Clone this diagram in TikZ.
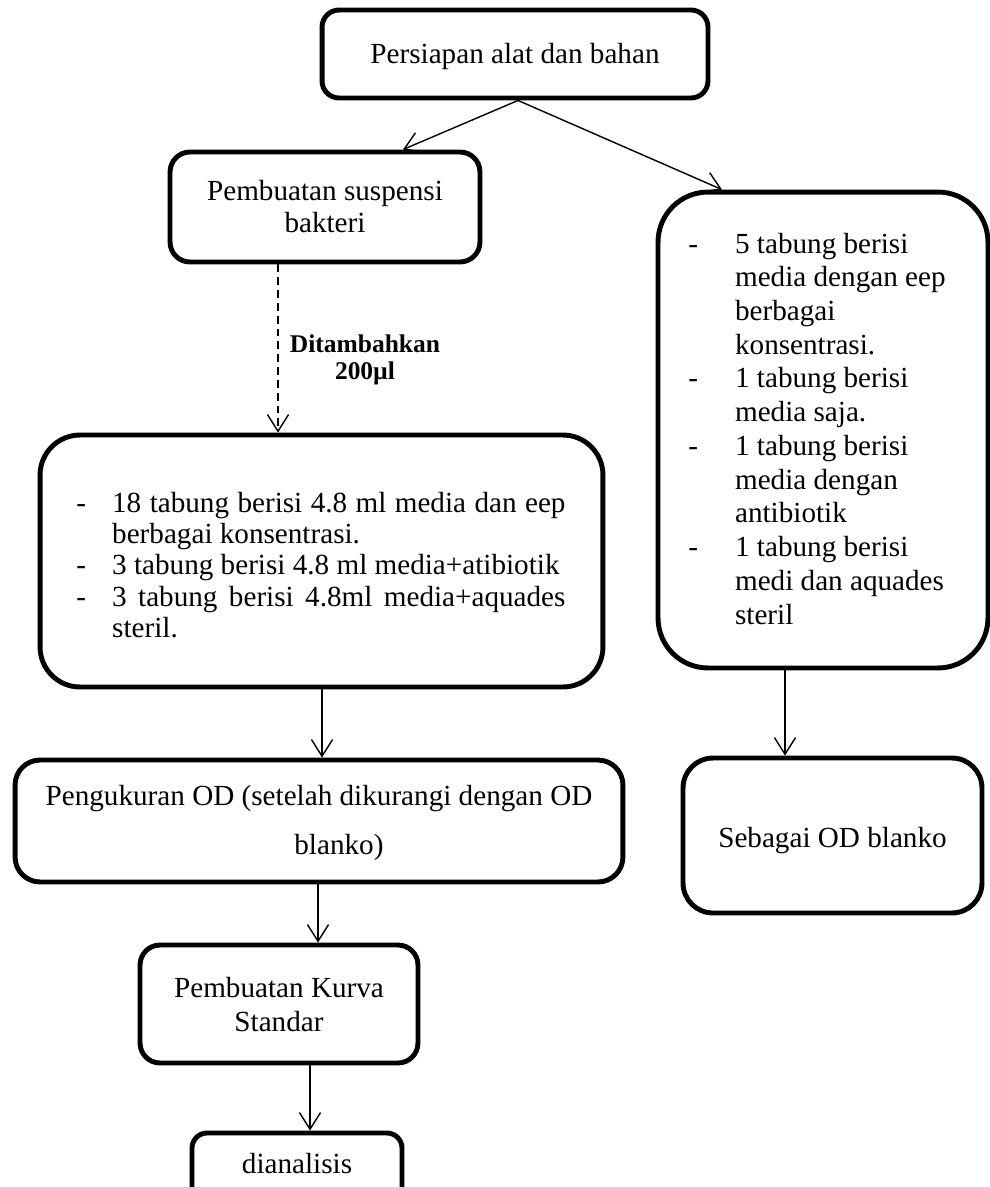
\documentclass[tikz,border=0pt]{standalone}
\usepackage{fontspec}
\setmainfont{Liberation Serif}
\usetikzlibrary{arrows.meta,calc}
\begin{document}
\begin{tikzpicture}[x=0.02cm,y=-0.02cm,
  box/.style={draw,line width=2.8pt,inner sep=0pt,rectangle},
  arr/.style={line width=0.8pt,-{Straight Barb[length=9.5pt,width=12pt,line width=0.8pt]}},
  txt/.style={inner sep=0pt,anchor=base,font=\fontsize{16.6}{19.1}\selectfont},
  lst/.style={inner sep=0pt,anchor=base west},
]
\useasboundingbox (0,0) rectangle (990,1187);
\clip (0,0) rectangle (990,1187);

% boxes
\node[box,rounded corners=0.34cm,minimum width=7.72cm,minimum height=1.76cm] (top) at (515,54) {};
\node[box,rounded corners=0.4cm,minimum width=6.2cm,minimum height=2.2cm] (sus) at (325,207) {};
\node[box,rounded corners=1.0cm,minimum width=6.6cm,minimum height=9.52cm] (right) at (823,430) {};
\node[box,rounded corners=0.8cm,minimum width=11.26cm,minimum height=5.04cm] (left) at (321.5,561) {};
\node[box,rounded corners=0.5cm,minimum width=12.16cm,minimum height=2.44cm] (peng) at (319,821) {};
\node[box,rounded corners=0.6cm,minimum width=5.98cm,minimum height=3.1cm] (seb) at (832.5,835.5) {};
\node[box,rounded corners=0.4cm,minimum width=5.56cm,minimum height=2.36cm] (kurva) at (279,1004) {};
\node[box,rounded corners=0.3cm,minimum width=4.2cm,minimum height=1.44cm] (dian) at (297,1169) {};

% texts
\node[txt] (ttop) at (515,63) {Persiapan alat dan bahan};
\node[txt,font=\fontsize{16.6}{18.7}\selectfont] (tsus) at (325,200)
  {\begin{tabular}[t]{@{}c@{}}Pembuatan suspensi\\bakteri\end{tabular}};
\node[lst,font=\fontsize{16.6}{17.9}\selectfont] (tleft) at (76,512)
  {\begin{tabular}[t]{@{}p{20.4pt}@{}l@{}}
  -& \makebox[258pt][s]{18 tabung berisi 4.8 ml media dan eep}\\
   & berbagai konsentrasi.\\
  -& 3 tabung berisi 4.8 ml media+atibiotik\\
  -& \makebox[258pt][s]{3 tabung berisi 4.8ml media+aquades}\\
   & steril.
  \end{tabular}};
\node[lst,font=\fontsize{16.6}{19.2}\selectfont] (tright) at (688,253)
  {\begin{tabular}[t]{@{}p{26.6pt}@{}l@{}}
  -& 5 tabung berisi\\
   & media dengan eep\\
   & berbagai\\
   & konsentrasi.\\
  -& 1 tabung berisi\\
   & media saja.\\
  -& 1 tabung berisi\\
   & media dengan\\
   & antibiotik\\
  -& 1 tabung berisi\\
   & medi dan aquades\\
   & steril
  \end{tabular}};
\node[txt,font=\fontsize{16.6}{28.35}\selectfont] (tpeng) at (319,805)
  {\begin{tabular}[t]{@{}c@{}}Pengukuran OD (setelah dikurangi dengan OD\\\hspace*{22.7pt}blanko)\end{tabular}};
\node[txt] (tseb) at (832.5,847) {Sebagai OD blanko};
\node[txt,font=\fontsize{16.6}{19.8}\selectfont] (tkurva) at (279,997)
  {\begin{tabular}[t]{@{}c@{}}Pembuatan Kurva\\Standar\end{tabular}};
\node[txt] (tdian) at (297,1173) {dianalisis};
\node[txt,font=\bfseries\fontsize{14.5}{15.9}\selectfont] (lab) at (365,352)
  {\begin{tabular}[t]{@{}c@{}}Ditambahkan\\200µl\end{tabular}};

% connector x positions
\coordinate (xa) at (518,0);
\coordinate (xs) at (403,0);
\coordinate (xr) at (722,0);
\coordinate (xd) at (278,0);
\coordinate (xl) at (322,0);
\coordinate (xb) at (785,0);
\coordinate (xp) at (318,0);
\coordinate (xk) at (310,0);

% connectors
\draw[arr] (top.south -| xa) -- (sus.north -| xs);
\draw[arr] (top.south -| xa) -- (right.north -| xr);
\draw[arr,dash pattern=on 4.5pt off 2.8pt] (sus.south -| xd) -- (left.north -| xd);
\draw[arr] (left.south -| xl) -- (peng.north -| xl);
\draw[arr] (right.south -| xb) -- (seb.north -| xb);
\draw[arr] (peng.south -| xp) -- (kurva.north -| xp);
\draw[arr] (kurva.south -| xk) -- (dian.north -| xk);
\end{tikzpicture}
\end{document}
